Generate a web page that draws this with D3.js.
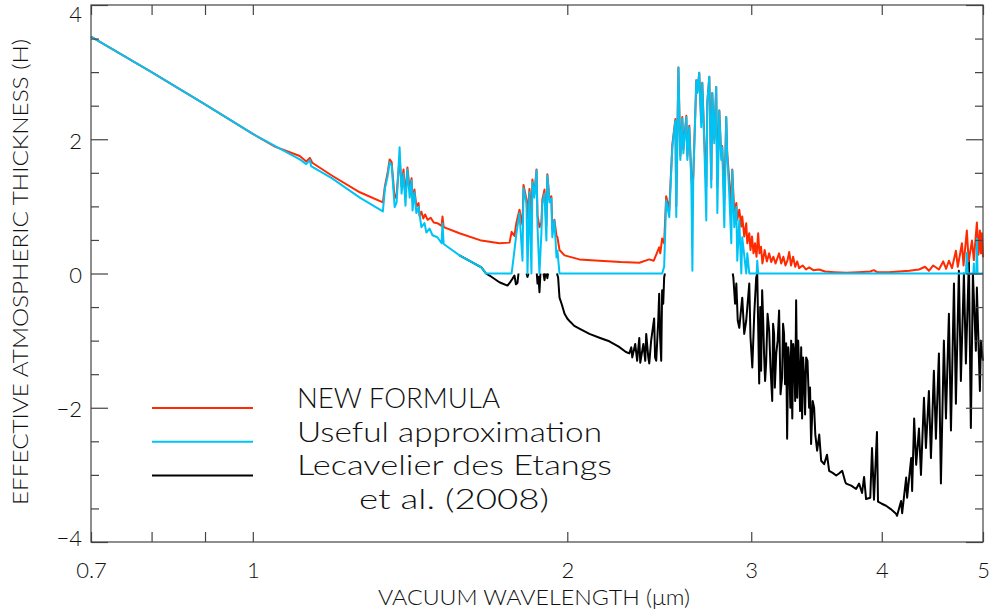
<!DOCTYPE html>
<html>
<head>
<meta charset="utf-8">
<title>Effective atmospheric thickness</title>
<script src="https://d3js.org/d3.v7.min.js"></script>
<style>
body { margin: 0; background: #fff; }
svg text { font-family: "Lato", "Open Sans", "DejaVu Sans", sans-serif; font-weight: 300; fill: #111; }
.axis path { display: none; }
.axis line { stroke: #444; stroke-width: 1.2; }
</style>
</head>
<body>
<div id="chart"></div>
<script>

/* ---------- data (wavelength in micron, thickness in H) ---------- */

var xTicks = [0.7, 1, 2, 3, 4, 5];
var xMinor = [0.8, 0.9];
var yTicks = [-4, -2, 0, 2, 4];
var yMinor = [-3.5, -3, -2.5, -1.5, -1, -0.5, 0.5, 1, 1.5, 2.5, 3, 3.5];

var legendLabels = ["NEW FORMULA", "Useful approximation", "Lecavelier des Etangs", "et al. (2008)"];

// new formula (red)
var redSeries = [
  [0.700,3.53],[0.800,3.00],[0.900,2.52],[1.000,2.08],[1.050,1.89],[1.109,1.75],[1.125,1.67],[1.134,1.72],[1.140,1.65],
  [1.190,1.46],[1.266,1.21],[1.332,1.06],[1.338,1.30],[1.346,1.50],[1.352,1.70],[1.358,1.66],[1.367,1.12],[1.373,1.18],
  [1.382,1.72],[1.388,1.30],[1.394,1.55],[1.400,1.15],[1.406,1.58],[1.413,1.25],[1.419,1.42],[1.422,1.08],[1.428,1.25],
  [1.434,1.00],[1.441,1.05],[1.444,0.86],[1.450,0.92],[1.456,0.82],[1.462,0.88],[1.470,0.80],[1.480,0.83],[1.490,0.76],
  [1.502,0.75],[1.516,0.71],[1.519,0.85],[1.523,0.69],[1.577,0.60],[1.655,0.49],[1.722,0.45],[1.761,0.46],
  [1.769,0.62],[1.780,0.56],[1.788,0.76],[1.800,0.95],[1.812,0.72],[1.816,1.32],[1.828,1.10],[1.832,0.82],[1.840,1.26],
  [1.848,0.86],[1.852,1.40],[1.860,1.18],[1.869,1.55],[1.873,0.86],[1.881,0.69],[1.889,0.76],[1.893,1.10],[1.902,1.25],
  [1.910,0.72],[1.914,1.48],[1.923,1.10],[1.931,1.15],[1.935,0.66],[1.944,0.80],[1.953,0.56],[1.957,0.54],[1.966,0.35],
  [1.988,0.27],[2.054,0.21],[2.146,0.19],[2.250,0.17],[2.344,0.16],[2.396,0.21],[2.420,0.19],[2.449,0.39],[2.455,0.30],
  [2.465,0.52],[2.476,0.45],[2.487,1.15],[2.504,0.95],[2.521,1.92],[2.538,2.30],[2.543,1.00],[2.555,3.07],[2.566,1.75],
  [2.577,2.33],[2.583,1.85],[2.600,2.35],[2.606,1.75],[2.617,2.20],[2.629,1.45],[2.635,1.20],[2.640,1.45],[2.658,2.88],
  [2.664,2.70],[2.675,2.99],[2.687,2.25],[2.693,2.84],[2.705,2.00],[2.717,1.30],[2.723,2.55],[2.735,2.93],[2.747,1.40],
  [2.753,2.69],[2.765,2.00],[2.777,2.78],[2.784,1.30],[2.796,2.43],[2.808,1.75],[2.814,1.90],[2.827,1.10],[2.839,2.33],
  [2.845,1.80],[2.858,1.40],[2.871,1.00],[2.877,1.55],[2.890,0.90],[2.903,1.05],[2.909,0.80],[2.922,0.95],[2.935,0.70],
  [2.941,0.85],[2.954,0.55],[2.967,0.75],[2.974,0.45],[2.987,0.60],[2.995,0.35],[3.005,0.55],[3.015,0.30],[3.025,0.45],
  [3.035,0.25],[3.046,0.60],[3.055,0.30],[3.065,0.40],[3.075,0.15],[3.090,0.35],[3.105,0.18],[3.121,0.30],[3.135,0.17],
  [3.150,0.25],[3.165,0.15],[3.190,0.30],[3.205,0.15],[3.220,0.25],[3.235,0.12],[3.250,0.20],[3.262,0.32],[3.275,0.12],
  [3.290,0.25],[3.305,0.10],[3.320,0.18],[3.334,0.08],[3.360,0.12],[3.384,0.06],[3.408,0.09],[3.440,0.05],[3.484,0.06],
  [3.530,0.03],[3.600,0.02],[3.700,0.01],[3.800,0.02],[3.900,0.03],[3.930,0.05],[3.960,0.02],[4.064,0.02],[4.155,0.03],
  [4.250,0.04],[4.342,0.06],[4.400,0.10],[4.438,0.04],[4.480,0.12],[4.537,0.06],[4.580,0.18],[4.610,0.07],[4.638,0.19],
  [4.670,0.08],[4.710,0.34],[4.730,0.10],[4.773,0.45],[4.790,0.12],[4.825,0.64],[4.845,0.18],[4.880,0.49],[4.900,0.20],
  [4.933,0.76],[4.950,0.28],[4.966,0.64],[4.977,0.30],[4.988,0.60],[5.000,0.24]
];

// useful approximation (cyan)
var cyanSeries = [
  [0.700,3.53],[0.800,3.00],[0.900,2.52],[1.000,2.08],[1.109,1.70],[1.125,1.63],[1.134,1.69],[1.137,1.60],[1.190,1.42],
  [1.266,1.13],[1.332,0.925],[1.338,1.27],[1.346,1.45],[1.352,1.66],[1.358,1.61],[1.367,0.99],[1.373,1.06],[1.382,1.88],
  [1.388,1.19],[1.394,1.49],[1.400,1.01],[1.406,1.55],[1.413,1.13],[1.419,1.39],[1.422,0.94],[1.428,1.21],[1.434,0.90],
  [1.441,0.99],[1.450,0.69],[1.460,0.75],[1.466,0.61],[1.476,0.67],[1.486,0.57],[1.502,0.54],[1.516,0.45],[1.519,0.75],
  [1.523,0.44],[1.577,0.27],[1.655,0.09],[1.672,0.0],[1.769,0.0],[1.780,0.34],[1.788,0.60],[1.800,0.90],[1.812,0.19],
  [1.816,1.27],[1.828,1.04],[1.832,0.0],[1.840,1.21],[1.848,0.0],[1.852,1.36],[1.860,1.13],[1.869,1.54],[1.873,0.69],
  [1.881,0.0],[1.889,0.60],[1.893,1.04],[1.902,1.19],[1.910,0.49],[1.914,1.46],[1.923,1.06],[1.931,1.12],[1.935,0.54],
  [1.944,0.79],[1.953,0.24],[1.957,0.34],[1.966,0.0],[2.465,0.0],[2.476,0.10],[2.487,1.09],[2.504,0.84],[2.521,1.88],
  [2.538,2.28],[2.543,0.84],[2.555,3.07],[2.566,1.69],[2.577,2.31],[2.583,1.79],[2.600,2.33],[2.606,1.69],[2.617,2.18],
  [2.629,1.34],[2.635,0.04],[2.640,1.39],[2.658,2.88],[2.664,2.69],[2.675,2.99],[2.687,2.18],[2.693,2.84],[2.705,1.94],
  [2.717,0.79],[2.723,2.54],[2.735,2.93],[2.747,1.28],[2.753,2.69],[2.765,1.94],[2.777,2.78],[2.784,0.90],[2.796,2.43],
  [2.808,1.69],[2.814,1.88],[2.827,0.69],[2.839,2.33],[2.845,1.79],[2.858,1.19],[2.871,0.45],[2.877,1.54],[2.890,0.69],
  [2.903,0.99],[2.909,0.19],[2.922,0.79],[2.935,0.0],[2.941,0.54],[2.967,0.0],[2.974,0.30],[2.987,0.0],[3.036,0.0],
  [3.040,0.19],[3.046,0.0],[4.815,0.0],[4.825,0.31],[4.835,0.0],[4.895,0.0],[4.900,0.15],[4.905,0.0],[4.927,0.0],
  [4.933,0.52],[4.940,0.0],[5.000,0.0]
];

// Lecavelier des Etangs et al. 2008 (black); where positive it lies under the cyan curve
var blackSeries = [
  [1.577,0.27],[1.655,0.09],[1.672,0.0],[1.685,-0.03],[1.722,-0.13],[1.753,-0.18],[1.765,-0.12],[1.772,-0.08],[1.780,-0.03],
  [1.786,-0.16],[1.792,-0.14],[1.796,0.0],[1.800,null],[1.828,0.0],[1.832,-0.05],[1.836,0.0],[1.850,null],[1.870,0.0],
  [1.873,-0.15],[1.877,-0.05],[1.881,-0.28],[1.885,0.0],[1.890,null],[1.898,0.0],[1.902,-0.10],[1.906,0.0],[1.908,null],
  [1.911,0.0],[1.914,-0.07],[1.917,0.0],[1.930,null],[1.955,0.0],[1.960,-0.06],[1.966,-0.36],[1.975,-0.45],[1.988,-0.60],
  [2.000,-0.67],[2.013,-0.72],[2.031,-0.78],[2.054,-0.82],[2.100,-0.90],[2.150,-0.96],[2.194,-1.01],[2.240,-1.09],
  [2.276,-1.17],[2.293,-1.19],[2.303,-1.10],[2.308,-1.25],[2.323,-1.05],[2.333,-1.30],[2.344,-0.96],[2.349,-1.33],
  [2.365,-1.05],[2.375,-1.30],[2.380,-0.90],[2.391,-1.25],[2.396,-1.34],[2.406,-1.00],[2.422,-0.67],[2.427,-1.25],
  [2.433,-1.30],[2.444,-0.70],[2.449,-0.30],[2.454,-0.95],[2.460,-1.30],[2.465,-0.25],[2.471,-0.45],[2.476,-0.06],
  [2.480,0.0],[2.600,null],[2.880,0.0],[2.884,-0.06],[2.895,-0.45],[2.903,-0.15],[2.912,-0.70],[2.922,-0.81],[2.941,-0.36],
  [2.954,-0.90],[2.967,-0.70],[2.987,-0.15],[2.995,-0.95],[3.007,-1.40],[3.020,-0.60],[3.033,-0.06],[3.040,0.0],
  [3.053,-1.64],[3.060,-0.50],[3.066,-1.45],[3.073,-0.25],[3.080,-0.70],[3.086,-1.20],[3.093,-1.60],[3.100,-1.34],
  [3.110,-0.60],[3.121,-0.85],[3.130,-1.40],[3.142,-1.90],[3.148,-0.75],[3.155,-0.90],[3.160,-1.70],[3.170,-1.19],
  [3.180,-1.00],[3.190,-0.55],[3.200,-1.80],[3.211,-1.55],[3.218,-0.75],[3.225,-0.90],[3.232,-1.65],[3.240,-1.04],
  [3.247,-2.46],[3.255,-1.10],[3.262,-1.30],[3.270,-2.00],[3.276,-1.00],[3.284,-2.16],[3.291,-1.05],[3.298,-1.20],
  [3.305,-1.90],[3.312,-0.40],[3.320,-1.85],[3.327,-1.00],[3.334,-1.40],[3.341,-2.05],[3.349,-1.10],[3.356,-2.16],
  [3.363,-1.25],[3.370,-1.50],[3.378,-2.10],[3.386,-1.25],[3.396,-1.30],[3.408,-2.00],[3.415,-1.70],[3.423,-2.54],
  [3.435,-1.90],[3.446,-2.00],[3.455,-2.40],[3.469,-2.64],[3.485,-2.40],[3.500,-2.79],[3.523,-2.84],
  [3.545,-2.70],[3.562,-2.94],[3.590,-2.97],[3.618,-3.01],[3.640,-2.98],[3.666,-2.94],[3.690,-3.10],[3.698,-3.13],
  [3.740,-3.16],[3.780,-3.21],[3.805,-3.13],[3.830,-3.27],[3.847,-3.03],[3.864,-3.36],[3.900,-3.34],[3.915,-2.60],
  [3.932,-3.37],[3.958,-2.36],[3.967,-3.40],[4.000,-3.43],[4.038,-3.46],[4.080,-3.51],[4.128,-3.58],[4.137,-3.61],
  [4.174,-3.39],[4.184,-3.57],[4.221,-3.04],[4.230,-3.34],[4.268,-2.75],[4.277,-3.24],[4.296,-2.16],[4.315,-2.85],
  [4.342,-2.31],[4.361,-3.00],[4.390,-1.85],[4.409,-2.60],[4.438,-1.75],[4.458,-2.75],[4.487,-1.45],[4.507,-2.46],
  [4.537,-1.19],[4.557,-3.13],[4.587,-1.00],[4.608,-2.16],[4.638,-0.60],[4.659,-2.34],[4.690,-0.15],[4.710,-1.94],
  [4.741,0.04],[4.762,-1.60],[4.794,0.0],[4.815,-1.34],[4.847,0.19],[4.868,-2.30],[4.890,0.0],[4.922,-1.15],
  [4.933,-0.21],[4.966,-1.75],[4.977,-1.00],[5.000,-1.30]
];

var colors = { red: "#ff2a00", cyan: "#00c3f5", black: "#000000" };

/* ---------- layout ---------- */

var W = 991, H = 615;
var margin = { top: 5, right: 8, bottom: 73, left: 91 };
var width = W - margin.left - margin.right,
    height = H - margin.top - margin.bottom;

var svg = d3.select("#chart").append("svg")
    .attr("width", W)
    .attr("height", H);

var g = svg.append("g")
    .attr("transform", "translate(" + margin.left + "," + margin.top + ")");

var x = d3.scaleLog().domain([0.7, 5]).range([0, width]);
var y = d3.scaleLinear().domain([-4, 4]).range([height, 0]);

/* ---------- curves ---------- */

var line = d3.line()
    .defined(function(d) { return d[1] !== null; })
    .x(function(d) { return x(d[0]); })
    .y(function(d) { return y(d[1]); });

var plot = g.append("g");
[[blackSeries, colors.black], [redSeries, colors.red], [cyanSeries, colors.cyan]].forEach(function(s) {
  plot.append("path").datum(s[0])
      .attr("d", line).attr("fill", "none")
      .attr("stroke", s[1]).attr("stroke-width", 2).attr("stroke-linejoin", "round");
});

/* ---------- axes ---------- */

var fmtX = function(d) { return d === 0.7 ? "0.7" : d3.format("d")(d); };
var fmtY = d3.format("d");

g.append("g").attr("class", "axis")
    .attr("transform", "translate(0," + height + ")")
    .call(d3.axisBottom(x).tickValues(xTicks).tickSize(-10).tickPadding(20).tickFormat(fmtX))
    .selectAll("text").style("font-size", "22px");
g.append("g").attr("class", "axis")
    .attr("transform", "translate(0," + height + ")")
    .call(d3.axisBottom(x).tickValues(xMinor).tickSize(-10).tickFormat(""));
g.append("g").attr("class", "axis")
    .call(d3.axisTop(x).tickValues(xTicks.concat(xMinor)).tickSize(-10).tickFormat(""));

var yAxis = g.append("g").attr("class", "axis")
    .call(d3.axisLeft(y).tickValues(yTicks).tickSize(-17).tickPadding(9).tickFormat(fmtY));
yAxis.selectAll("text")
    .style("font-size", "22px")
    .attr("y", function(d) { return d === 4 ? 9 : (d === -4 ? -4 : 2); });
g.append("g").attr("class", "axis")
    .call(d3.axisLeft(y).tickValues(yMinor).tickSize(-8).tickFormat(""));
g.append("g").attr("class", "axis")
    .attr("transform", "translate(" + width + ",0)")
    .call(d3.axisRight(y).tickValues(yTicks).tickSize(-17).tickFormat(""));
g.append("g").attr("class", "axis")
    .attr("transform", "translate(" + width + ",0)")
    .call(d3.axisRight(y).tickValues(yMinor).tickSize(-8).tickFormat(""));

// frame
g.append("rect")
    .attr("width", width).attr("height", height)
    .attr("fill", "none").attr("stroke", "#444").attr("stroke-width", 1.2);

/* ---------- titles ---------- */

svg.append("text")
    .attr("x", 534).attr("y", 605)
    .attr("text-anchor", "middle")
    .style("font-size", "21px")
    .attr("textLength", 312).attr("lengthAdjust", "spacingAndGlyphs")
    .text("VACUUM WAVELENGTH (\u03bcm)");

svg.append("text")
    .attr("transform", "translate(28,272) rotate(-90)")
    .attr("text-anchor", "middle")
    .style("font-size", "21px")
    .attr("textLength", 466).attr("lengthAdjust", "spacingAndGlyphs")
    .text("EFFECTIVE ATMOSPHERIC THICKNESS (H)");

/* ---------- legend ---------- */

var legendColors = [colors.red, colors.cyan, colors.black];
var legend = svg.append("g");
legendColors.forEach(function(c, i) {
  legend.append("line")
      .attr("x1", 152).attr("x2", 253)
      .attr("y1", 408 + i * 33.7).attr("y2", 408 + i * 33.7)
      .attr("stroke", c).attr("stroke-width", 2);
});
var legendWidths = [203, 305, 315];
legendLabels.forEach(function(t, i) {
  var txt = legend.append("text")
      .attr("y", 408 + i * 33.5)
      .style("font-size", "27px")
      .text(t);
  if (i < 3) {
    txt.attr("x", 297).attr("textLength", legendWidths[i]).attr("lengthAdjust", "spacingAndGlyphs");
  } else {
    txt.attr("x", 454).attr("text-anchor", "middle").attr("textLength", 190).attr("lengthAdjust", "spacingAndGlyphs");
  }
});

</script>
</body>
</html>
